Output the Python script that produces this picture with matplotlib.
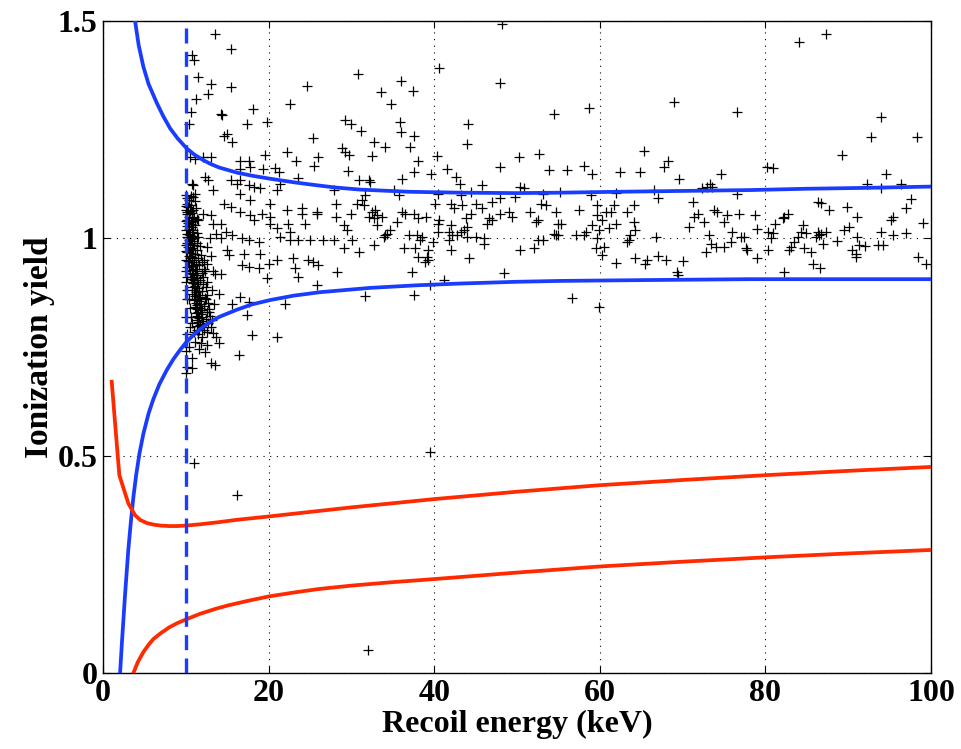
import matplotlib
matplotlib.use("Agg")
import matplotlib.pyplot as plt

# ---------------- data ----------------
# Event scatter: (recoil energy [keV], ionization yield)
events_near_threshold = [
    (13.5, 1.470), (15.4, 1.435), (10.8, 1.422), (11.0, 1.410), (11.5, 1.370),
    (13.0, 1.354), (15.4, 1.349), (12.7, 1.332), (11.2, 1.320), (24.6, 1.351),
    (30.8, 1.377), (22.6, 1.308), (18.1, 1.297), (10.6, 1.291), (14.2, 1.286),
    (14.4, 1.284), (10.4, 1.262), (17.4, 1.264), (19.8, 1.268), (29.2, 1.272),
    (29.9, 1.262), (31.2, 1.248), (14.6, 1.236), (15.0, 1.239), (15.6, 1.222),
    (25.4, 1.231), (28.9, 1.208), (29.2, 1.199), (29.7, 1.192), (22.2, 1.199),
    (23.3, 1.179), (26.0, 1.188), (19.6, 1.192), (25.5, 1.167), (10.5, 1.186),
    (11.1, 1.182), (12.1, 1.186), (13.0, 1.186), (16.6, 1.179), (17.6, 1.179),
    (17.8, 1.165), (16.6, 1.160), (19.3, 1.160), (20.8, 1.162), (21.2, 1.153),
    (29.6, 1.155), (12.3, 1.142), (12.7, 1.134), (10.7, 1.126), (15.4, 1.133),
    (16.6, 1.133), (23.6, 1.138), (30.9, 1.134), (32.1, 1.134),
    (10.9, 1.123), (16.2, 1.126), (17.6, 1.123), (18.2, 1.119), (21.4, 1.126),
    (27.9, 1.111), (11.1, 1.103), (13.3, 1.111), (16.6, 1.103), (19.0, 1.115),
    (21.0, 1.111), (14.6, 1.080), (15.4, 1.073), (17.8, 1.088), (20.2, 1.080),
    (22.2, 1.065), (24.0, 1.069), (25.8, 1.061), (28.1, 1.080), (30.7, 1.080),
    (31.3, 1.088), (12.1, 1.057), (13.1, 1.054), (16.6, 1.061), (17.8, 1.054),
    (19.2, 1.057), (20.2, 1.050), (24.0, 1.057), (24.4, 1.034), (25.8, 1.057),
    (28.1, 1.050), (29.9, 1.057), (11.5, 1.042), (13.3, 1.034), (14.2, 1.034),
    (18.2, 1.042), (20.2, 1.034), (22.4, 1.034), (22.6, 1.015), (21.0, 1.023),
    (29.1, 1.031), (29.5, 1.019), (13.7, 1.011), (14.8, 1.015), (15.6, 1.008),
    (14.2, 1.000), (16.8, 1.000), (17.6, 0.996), (18.8, 0.992), (21.4, 1.004),
    (22.6, 0.996), (23.6, 0.996), (25.0, 0.996), (26.6, 0.996), (27.9, 0.996),
    (30.1, 0.996), (29.1, 0.977), (30.9, 0.969), (15.0, 0.973), (15.2, 0.961),
    (17.0, 0.965), (19.0, 0.965), (20.0, 0.942), (21.0, 0.950), (23.0, 0.954),
    (23.2, 0.931), (23.6, 0.912), (24.8, 0.950), (25.4, 0.946), (26.0, 0.939),
    (28.3, 0.923), (16.8, 0.939), (17.6, 0.935), (18.8, 0.931), (13.5, 0.919),
    (14.2, 0.919), (19.8, 0.908), (25.8, 0.893), (14.0, 0.873), (15.6, 0.850),
    (16.6, 0.866), (17.6, 0.854), (17.4, 0.824), (22.0, 0.850), (18.0, 0.778),
    (21.0, 0.774), (16.4, 0.731), (13.3, 0.781), (13.7, 0.774), (12.3, 0.739),
    (13.5, 0.709), (13.1, 0.712), (11.1, 0.762), (11.3, 0.789),
    (10.0, 0.689), (10.7, 0.701), (11.0, 0.482), (16.2, 0.409),
]

# Dense band of events just above the 10 keV threshold
events_threshold_band = [
    (10.0, 1.100), (10.2, 1.092), (10.4, 1.088), (10.1, 1.080), (10.6, 1.076),
    (10.3, 1.072), (10.0, 1.066), (10.5, 1.062), (10.8, 1.058), (10.2, 1.055),
    (10.4, 1.050), (10.7, 1.046), (10.1, 1.043), (10.9, 1.040), (10.3, 1.036),
    (10.6, 1.032), (10.2, 1.028), (10.8, 1.025), (10.4, 1.021), (10.0, 1.018),
    (10.7, 1.015), (10.3, 1.011), (10.5, 1.008), (10.9, 1.005), (10.2, 1.002),
    (10.6, 0.999), (10.4, 0.996), (10.8, 0.993), (10.1, 0.990), (10.5, 0.987),
    (11.0, 0.984), (10.3, 0.981), (10.7, 0.978), (10.5, 0.975), (10.9, 0.972),
    (10.2, 0.969), (10.6, 0.966), (11.1, 0.963), (10.4, 0.960), (10.8, 0.957),
    (10.5, 0.954), (11.0, 0.951), (10.3, 0.948), (10.7, 0.945), (11.2, 0.942),
    (10.6, 0.939), (10.9, 0.936), (10.4, 0.933), (11.1, 0.930), (10.7, 0.927),
    (11.3, 0.924), (10.5, 0.921), (10.9, 0.918), (11.2, 0.915), (10.8, 0.912),
    (11.4, 0.909), (10.6, 0.906), (11.0, 0.903), (11.3, 0.900), (10.9, 0.897),
    (11.5, 0.894), (11.1, 0.891), (10.7, 0.888), (11.4, 0.885), (11.0, 0.882),
    (11.6, 0.879), (11.2, 0.876), (10.8, 0.873), (11.5, 0.870), (11.1, 0.867),
    (11.7, 0.864), (11.3, 0.861), (11.0, 0.858), (11.6, 0.855), (11.2, 0.852),
    (11.8, 0.849), (11.4, 0.846), (11.1, 0.843), (11.7, 0.840), (11.3, 0.837),
    (11.9, 0.834), (11.5, 0.831), (11.2, 0.828), (11.8, 0.825), (11.4, 0.822),
    (12.0, 0.819), (11.6, 0.816), (11.3, 0.813), (11.9, 0.810), (11.5, 0.807),
    (12.1, 0.804), (11.7, 0.801), (11.4, 0.798), (12.0, 0.795), (11.6, 0.790),
    (10.0, 0.950), (10.0, 0.900), (10.1, 0.860), (10.0, 0.820), (10.1, 0.780),
    (10.0, 0.740), (10.1, 1.060), (10.0, 1.040), (12.4, 0.860), (12.6, 0.900),
    (12.2, 0.950), (12.8, 0.830), (12.5, 0.980), (13.2, 0.880), (12.9, 1.000),
    (10.9, 1.095), (11.1, 1.085), (10.6, 1.097), (11.2, 1.070), (10.9, 1.066),
    (11.0, 1.050), (11.3, 1.045), (10.6, 1.038), (11.1, 1.030), (10.9, 1.020),
    (11.3, 1.012), (11.0, 1.000), (11.5, 1.004), (10.2, 1.010), (10.0, 1.075),
    (10.0, 0.985), (10.1, 0.935), (11.4, 0.990), (11.7, 0.982), (11.3, 0.972),
    (11.8, 0.962), (11.5, 0.955), (12.0, 0.946), (11.6, 0.938), (12.2, 0.930),
    (11.9, 0.920), (11.4, 0.915), (12.1, 0.912), (10.0, 0.970), (10.0, 0.925),
    (10.2, 0.910), (11.7, 0.905), (12.3, 0.925), (12.6, 0.940), (13.0, 0.960),
    (13.3, 0.925), (12.1, 0.895), (12.4, 0.888), (12.0, 0.878), (12.6, 0.870),
    (12.3, 0.862), (12.7, 0.852), (12.2, 0.845), (12.8, 0.838), (12.5, 0.830),
    (12.9, 0.822), (12.4, 0.815), (12.7, 0.805), (13.0, 0.797), (12.2, 0.790),
    (12.6, 0.785), (10.2, 0.880), (10.4, 0.860), (10.5, 0.840), (10.6, 0.820),
    (10.8, 0.805), (10.5, 0.795), (11.0, 0.785), (11.5, 0.780), (13.2, 0.812),
    (13.4, 0.850), (12.0, 0.772), (11.8, 0.760), (10.4, 0.750), (10.7, 0.725),
    (12.5, 0.755), (11.6, 0.745), (14.0, 0.760), (10.1, 0.705),
]

events_mid_E = [
    (48.2, 1.494), (40.6, 1.391), (48.0, 1.357), (36.0, 1.363), (33.6, 1.336),
    (37.4, 1.340), (34.8, 1.308), (54.5, 1.287), (35.9, 1.267), (44.1, 1.264),
    (36.0, 1.245), (37.6, 1.236), (32.7, 1.222), (34.0, 1.209), (37.1, 1.209),
    (43.9, 1.217), (32.5, 1.189), (40.3, 1.189), (38.0, 1.179), (50.2, 1.186),
    (52.7, 1.194), (47.9, 1.165), (53.9, 1.156), (37.6, 1.153), (39.6, 1.149),
    (41.5, 1.159), (42.6, 1.142), (43.1, 1.126), (32.2, 1.130), (36.1, 1.136),
    (35.1, 1.111), (35.7, 1.100), (31.7, 1.100), (31.5, 1.077), (40.1, 1.080),
    (40.4, 1.103), (45.8, 1.123), (43.2, 1.100), (44.4, 1.107), (50.8, 1.115),
    (50.4, 1.119), (48.0, 1.092), (49.8, 1.096), (53.1, 1.103), (53.5, 1.077),
    (52.9, 1.080), (42.0, 1.080), (42.4, 1.069), (43.4, 1.077), (45.0, 1.080),
    (45.8, 1.069), (47.0, 1.084), (44.4, 1.057), (32.5, 1.061), (32.9, 1.065),
    (33.1, 1.054), (32.7, 1.046), (32.1, 1.050), (33.7, 1.050), (33.1, 1.031),
    (36.1, 1.061), (36.5, 1.057), (37.5, 1.057), (38.1, 1.046), (39.0, 1.050),
    (35.5, 1.038), (40.6, 1.042), (40.4, 1.034), (42.0, 1.031), (43.8, 1.046),
    (44.0, 1.027), (46.6, 1.046), (47.0, 1.042), (46.4, 1.034), (48.0, 1.057),
    (49.0, 1.061), (49.4, 1.050), (51.6, 1.061), (52.5, 1.042), (52.3, 1.038),
    (54.7, 1.061), (54.9, 1.034), (54.9, 1.008), (54.5, 1.011), (34.1, 1.008),
    (34.7, 1.019), (34.3, 1.011), (33.9, 1.004), (36.9, 1.008), (37.9, 1.008),
    (38.5, 1.004), (38.3, 0.996), (40.4, 1.015), (39.8, 0.992), (41.8, 1.015),
    (42.2, 1.008), (41.8, 0.996), (42.8, 1.008), (43.2, 1.015), (43.6, 1.019),
    (44.0, 1.004), (45.0, 1.004), (46.0, 1.000), (46.0, 0.988), (52.5, 0.996),
    (53.1, 0.996), (52.0, 0.977), (50.4, 0.973), (32.7, 0.984), (36.3, 0.977),
    (37.7, 0.977), (39.3, 0.973), (42.0, 0.973), (38.1, 0.958), (39.1, 0.958),
    (38.9, 0.946), (39.3, 0.950), (44.2, 0.954), (37.3, 0.923), (48.4, 0.921),
    (41.2, 0.904), (39.5, 0.893), (37.5, 0.870), (31.7, 0.867),
    (39.5, 0.508), (32.0, 0.053),
]

events_high_E = [
    (68.9, 1.313), (76.6, 1.290), (58.7, 1.299), (65.3, 1.201), (68.2, 1.179),
    (67.7, 1.163), (58.1, 1.167), (59.1, 1.148), (56.0, 1.156), (62.4, 1.152),
    (64.9, 1.152), (69.6, 1.136), (74.6, 1.148), (73.3, 1.126),
    (87.3, 1.470), (84.0, 1.452), (94.0, 1.278), (92.7, 1.232), (98.3, 1.232),
    (89.2, 1.192), (80.2, 1.165), (80.9, 1.162), (94.6, 1.148), (92.3, 1.126),
    (96.4, 1.126),
    (55.2, 1.107), (58.9, 1.100), (61.9, 1.105), (66.5, 1.111), (67.0, 1.092),
    (72.4, 1.115), (73.0, 1.119), (73.6, 1.119), (76.6, 1.103), (71.3, 1.084),
    (59.7, 1.077), (61.7, 1.077), (64.1, 1.077), (61.3, 1.061), (60.7, 1.061),
    (57.5, 1.064), (63.3, 1.061), (59.7, 1.054), (60.3, 1.042), (61.9, 1.034),
    (64.1, 1.038), (59.1, 1.031), (55.3, 1.034), (73.8, 1.065), (74.2, 1.061),
    (71.8, 1.057), (71.4, 1.050), (72.6, 1.038), (75.0, 1.038), (75.4, 1.054),
    (76.8, 1.057), (70.8, 1.027), (58.3, 1.015), (58.1, 1.008), (59.9, 1.019),
    (61.1, 1.023), (64.3, 1.019), (63.7, 1.008), (57.1, 1.008), (54.7, 1.008),
    (59.7, 1.000), (66.8, 1.004), (63.5, 0.996), (63.3, 0.992), (73.2, 1.008),
    (76.0, 1.015), (77.0, 1.004), (73.4, 0.988), (74.0, 0.981), (75.0, 0.981),
    (75.8, 0.992), (60.5, 0.981), (59.5, 0.977), (60.3, 0.962), (72.8, 0.969),
    (77.8, 0.974), (61.9, 0.944), (64.3, 0.954), (65.7, 0.950), (65.5, 0.941),
    (67.0, 0.959), (68.0, 0.950), (70.0, 0.948), (69.3, 0.923), (69.5, 0.916),
    (56.7, 0.862), (59.9, 0.841),
    (94.0, 1.115), (86.3, 1.084), (86.7, 1.082), (87.7, 1.064), (89.9, 1.071),
    (91.1, 1.048), (97.6, 1.090), (97.0, 1.069), (95.4, 1.050), (95.2, 1.042),
    (99.0, 1.036), (78.8, 1.054), (82.1, 1.046), (82.7, 1.057), (82.3, 1.050),
    (81.1, 1.033), (79.0, 1.021), (80.3, 1.015), (80.9, 1.013), (80.7, 1.000),
    (77.4, 1.004), (84.5, 1.031), (84.3, 1.015), (84.9, 1.013), (86.3, 1.015),
    (86.5, 1.008), (86.7, 1.011), (87.3, 1.015), (86.1, 1.004), (83.9, 1.004),
    (86.9, 0.988), (88.7, 0.994), (89.5, 1.019), (90.1, 1.027), (91.1, 1.004),
    (91.3, 0.985), (92.0, 0.982), (90.5, 0.973), (90.9, 0.965), (90.9, 0.956),
    (94.0, 1.015), (95.4, 1.008), (97.0, 1.013), (93.6, 0.985), (94.2, 0.985),
    (83.1, 0.981), (83.5, 0.992), (82.9, 0.973), (84.7, 0.977), (85.5, 0.969),
    (77.6, 0.977), (80.3, 0.973), (79.0, 0.954), (85.7, 0.942), (86.6, 0.931),
    (82.2, 0.923), (98.4, 0.956), (99.4, 0.941),
]

# Electron-recoil band limits (blue) and nuclear-recoil band limits (red)
er_upper_E = [3.87, 4.3, 4.87, 5.5, 6.5, 7.3, 8.1, 9.0, 10.1, 11.0, 12.0, 13.0,
              14.0, 16.2, 18.0, 20.2, 23.0, 25.4, 28.0, 31.1, 37.0, 43.2, 50.0,
              55.3, 62.0, 70.0, 78.2, 85.0, 92.0, 100.0]
er_upper_Q = [1.500, 1.445, 1.395, 1.355, 1.311, 1.280, 1.253, 1.230, 1.207,
              1.193, 1.181, 1.171, 1.163, 1.151, 1.144, 1.137, 1.129, 1.123,
              1.117, 1.112, 1.107, 1.105, 1.104, 1.105, 1.107, 1.109, 1.111,
              1.114, 1.116, 1.119]

er_lower_E = [2.06, 2.3, 2.66, 3.06, 3.4, 3.67, 4.0, 4.4, 4.87, 5.5, 6.08, 6.8,
              7.7, 8.5, 9.3, 10.1, 11.0, 12.0, 13.0, 14.0, 16.2, 18.0, 20.2,
              23.0, 26.2, 32.3, 38.0, 43.2, 50.0, 55.3, 66.0, 78.2, 90.0, 100.0]
er_lower_Q = [0.0, 0.075, 0.180, 0.285, 0.355, 0.405, 0.455, 0.505, 0.550,
              0.597, 0.630, 0.664, 0.697, 0.722, 0.743, 0.762, 0.779, 0.795,
              0.808, 0.819, 0.836, 0.848, 0.858, 0.868, 0.876, 0.886, 0.892,
              0.896, 0.900, 0.902, 0.904, 0.906, 0.906, 0.906]

nr_upper_E = [1.05, 1.97, 3.06, 3.87, 4.5, 5.28, 6.2, 7.0, 8.0, 8.9, 10.0,
              11.7, 14.0, 16.0, 20.0, 23.8, 30.0, 40.0, 50.0, 60.0, 70.0, 80.0,
              90.0, 100.0]
nr_upper_Q = [0.670, 0.455, 0.390, 0.363, 0.352, 0.345, 0.341, 0.339, 0.338,
              0.338, 0.339, 0.342, 0.347, 0.352, 0.360, 0.368, 0.381, 0.400,
              0.417, 0.432, 0.444, 0.455, 0.465, 0.474]

nr_lower_E = [3.67, 4.2, 4.87, 5.5, 6.08, 7.0, 8.0, 9.0, 10.0, 11.7, 13.5,
              15.0, 17.5, 20.0, 23.0, 26.0, 30.0, 35.0, 40.0, 50.0, 60.0, 70.0,
              80.0, 90.0, 100.0]
nr_lower_Q = [0.0, 0.025, 0.048, 0.065, 0.078, 0.092, 0.105, 0.115, 0.123,
              0.136, 0.147, 0.155, 0.166, 0.176, 0.185, 0.193, 0.201, 0.209,
              0.216, 0.231, 0.245, 0.256, 0.266, 0.275, 0.283]

threshold_keV = 10.0

x_ticks = [0, 20, 40, 60, 80, 100]
y_ticks = [0, 0.5, 1.0, 1.5]
y_tick_labels = ["0", "0.5", "1", "1.5"]

# ---------------- figure ----------------
BLUE = "#1a3cff"
RED = "#ff2a00"

plt.rcParams["font.family"] = ["Liberation Serif", "DejaVu Serif"]
plt.rcParams["font.weight"] = "bold"

fig = plt.figure(figsize=(9.61, 7.49), dpi=100)
ax = fig.add_axes([0.1072, 0.1015, 0.8616, 0.8705])

all_events = (events_near_threshold + events_threshold_band
              + events_mid_E + events_high_E)
ev_E = [p[0] for p in all_events]
ev_Q = [p[1] for p in all_events]

ax.plot(ev_E, ev_Q, linestyle="none", marker="+", color="black",
        markersize=7.5, markeredgewidth=0.9, zorder=2)

ax.plot(er_upper_E, er_upper_Q, color=BLUE, lw=2.7, zorder=3)
ax.plot(er_lower_E, er_lower_Q, color=BLUE, lw=2.7, zorder=3)
ax.plot(nr_upper_E, nr_upper_Q, color=RED, lw=2.7, zorder=3)
ax.plot(nr_lower_E, nr_lower_Q, color=RED, lw=2.7, zorder=3)
ax.axvline(threshold_keV, color=BLUE, lw=2.4, linestyle=(0, (4.5, 2.5)),
           zorder=3)

ax.set_xlim(0, 100)
ax.set_ylim(0, 1.5)
ax.set_xticks(x_ticks)
ax.set_yticks(y_ticks)
ax.set_yticklabels(y_tick_labels)

ax.grid(True, color="black", linestyle=(0, (1, 5)), linewidth=0.8)
ax.set_axisbelow(True)

ax.tick_params(direction="in", length=5, width=0.8, top=True, right=True,
               labelsize=23, pad=4)
for lab in ax.get_xticklabels() + ax.get_yticklabels():
    lab.set_fontweight("bold")
for sp in ax.spines.values():
    sp.set_linewidth(1.0)

ax.set_xlabel("Recoil energy (keV)", fontsize=23, fontweight="bold",
              labelpad=1.5)
ax.set_ylabel("Ionization yield", fontsize=24, fontweight="bold",
              labelpad=2)

fig.savefig("out.png", dpi=100)
